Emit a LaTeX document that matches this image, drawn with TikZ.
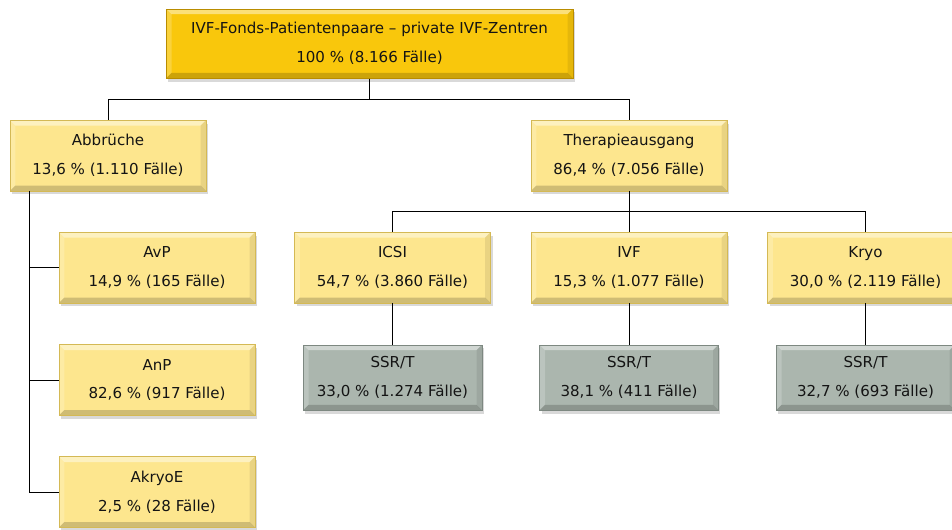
\documentclass[tikz,border=0pt]{standalone}
\usepackage{fontspec}
\setmainfont{DejaVu Sans}
\usetikzlibrary{calc}
\usetikzlibrary{positioning}
\usetikzlibrary{shadows}

\definecolor{goldfill}{HTML}{F9C70C}
\definecolor{goldline}{HTML}{B98C00}
\definecolor{gelbfill}{HTML}{FDE68E}
\definecolor{gelbline}{HTML}{D4B955}
\definecolor{grauefill}{HTML}{ABB6AE}
\definecolor{graueline}{HTML}{7D8881}

\tikzset{
  bevel/.style={path picture={
    \def\pb{path picture bounding box}
    \fill[white, opacity=0.45] (\pb.north west) -- (\pb.north east)
        -- ([shift={(-4pt,-4pt)}]\pb.north east) -- ([shift={(4pt,-4pt)}]\pb.north west) -- cycle;
    \fill[white, opacity=0.2] (\pb.north west) -- ([shift={(4pt,-4pt)}]\pb.north west)
        -- ([shift={(4pt,4pt)}]\pb.south west) -- (\pb.south west) -- cycle;
    \fill[black, opacity=0.08] (\pb.north east) -- ([shift={(-4pt,-4pt)}]\pb.north east)
        -- ([shift={(-4pt,4pt)}]\pb.south east) -- (\pb.south east) -- cycle;
    \fill[black, opacity=0.18] (\pb.south west) -- ([shift={(4pt,4pt)}]\pb.south west)
        -- ([shift={(-4pt,4pt)}]\pb.south east) -- (\pb.south east) -- cycle;
  }},
  kasten/.style={draw=gelbline, fill=gelbfill, bevel, line width=0.5pt,
    minimum width=147pt, minimum height=53pt, align=center, text=black!92,
    font=\fontsize{11.3}{21.5}\selectfont,
    drop shadow={shadow xshift=1.5pt, shadow yshift=-2.5pt, opacity=0.3}},
  kopf/.style={kasten, draw=goldline, fill=goldfill, minimum width=305pt, minimum height=52pt},
  ergebnis/.style={kasten, draw=graueline, fill=grauefill, minimum width=134pt, minimum height=49pt},
  linie/.style={line width=0.75pt, black}
}

\begin{document}
\begin{tikzpicture}[x=0.75pt, y=-0.75pt]

\useasboundingbox (0,0) rectangle (952,529);
\clip (0,0) rectangle (952,529);

% 节点
\node[kopf] (fonds) at (369.5,43.5) {IVF-Fonds-Patientenpaare – private IVF-Zentren\\100 \% (8.166 Fälle)};

\node[kasten] (abbr) at (108,155.5) {Abbrüche\\13,6 \% (1.110 Fälle)};
\node[kasten] (ther) at (629,155.5) {Therapieausgang\\86,4 \% (7.056 Fälle)};

\node[kasten] (avp) at (157,267.5) {AvP\\14,9 \% (165 Fälle)};
\node[kasten] (anp) at (157,380) {AnP\\82,6 \% (917 Fälle)};
\node[kasten] (akryoe) at (157,492) {AkryoE\\2,5 \% (28 Fälle)};

\node[kasten] (icsi) at (392.5,267.5) {ICSI\\54,7 \% (3.860 Fälle)};
\node[kasten] (ivf) at (629,267.5) {IVF\\15,3 \% (1.077 Fälle)};
\node[kasten] (kryo) at (865.5,267.5) {Kryo\\30,0 \% (2.119 Fälle)};

\node[ergebnis] (ssricsi) at (392.5,377.5) {SSR/T\\33,0 \% (1.274 Fälle)};
\node[ergebnis] (ssrivf) at (629,377.5) {SSR/T\\38,1 \% (411 Fälle)};
\node[ergebnis] (ssrkryo) at (865.5,377.5) {SSR/T\\32,7 \% (693 Fälle)};

% 连线
\draw[linie] (fonds.south) -- ++(0,21) -| (abbr.north);
\draw[linie] (fonds.south) -- ++(0,21) -| (ther.north);

\draw[linie] (ther.south) -- ++(0,20) -| (icsi.north);
\draw[linie] (ther.south) -- (ivf.north);
\draw[linie] (ther.south) -- ++(0,20) -| (kryo.north);

\draw[linie] (icsi.south) -- (ssricsi.north);
\draw[linie] (ivf.south) -- (ssrivf.north);
\draw[linie] (kryo.south) -- (ssrkryo.north);

\coordinate (stamm) at ([xshift=15pt]abbr.south west);
\draw[linie] (stamm) |- (akryoe.west);
\draw[linie] (avp.west) -- (avp.west -| stamm);
\draw[linie] (anp.west) -- (anp.west -| stamm);

\end{tikzpicture}
\end{document}
